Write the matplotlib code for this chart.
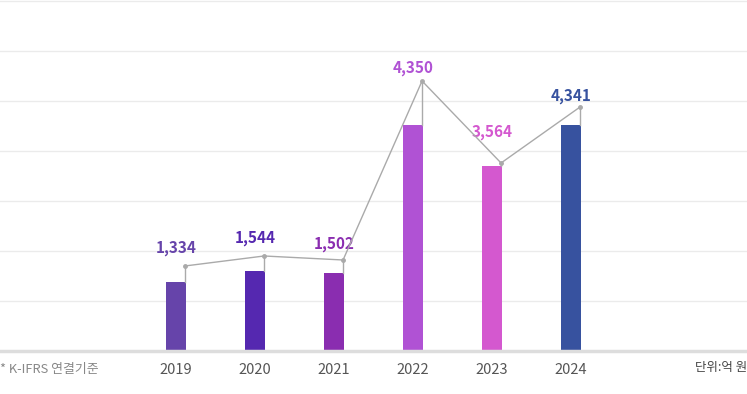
import matplotlib
matplotlib.use("Agg")
import matplotlib.pyplot as plt

plt.rcParams['font.family'] = ['Noto Sans CJK KR', 'DejaVu Sans']

years = ['2019', '2020', '2021', '2022', '2023', '2024']
values = [1334, 1544, 1502, 4350, 3564, 4341]
labels = ['1,334', '1,544', '1,502', '4,350', '3,564', '4,341']
# heights of the connector-line points
line_vals = [1635, 1827, 1750, 5192, 3615, 4692]
colors = ['#6644aa', '#5528b0', '#8a2db0', '#b052d4', '#d458cf', '#37529f']
label_offsets = [7.5, 7, 5.5, 3.5, 16.5, 2.5]  # points above the line points

W, H = 747, 394
fig = plt.figure(figsize=(W / 100, H / 100), dpi=100)
ax = fig.add_axes([0, 1 - 351 / H, 1, 350 / H])

x = list(range(len(years)))
bw = 20 / 79
ax.set_xlim(-176 / 79, (W - 176) / 79)
ax.set_ylim(0, 6730)

# decorative grid: every 50 px
for k in range(1, 8):
    f = k * 50 / 350
    ax.plot([0, 1], [f, f], transform=ax.transAxes, color='#ebebeb',
            lw=1, zorder=0, clip_on=False)

ax.bar(x, values, width=bw, color=colors, zorder=2)

px = [xi + bw / 2 - 0.012 for xi in x]
for xi, v, lv in zip(px, values, line_vals):
    ax.plot([xi, xi], [v, lv], color='#aaaaaa', lw=1, zorder=3)
ax.plot(px, line_vals, color='#aaaaaa', lw=1, marker='o', markersize=2.5,
        zorder=4)

for xi, lv, lab, c, off in zip(x, line_vals, labels, colors, label_offsets):
    ax.annotate(lab, (xi, lv), xytext=(0, off), textcoords='offset points',
                ha='center', va='bottom', color=c, fontsize=11,
                fontweight='bold')

ax.axhline(0, color='#dddddd', lw=2.5, zorder=5, clip_on=False)

for s in ax.spines.values():
    s.set_visible(False)
ax.set_yticks([])
ax.set_xticks(x)
ax.set_xticklabels(years, fontsize=10.5, color='#555555')
ax.tick_params(axis='x', length=0, pad=8.5)

fig.text(0, 1 - 369 / H, '* K-IFRS 연결기준', fontsize=9.3, color='#888888',
         ha='left', va='center')
fig.text(1, 1 - 368 / H, '단위:억 원', fontsize=9, color='#444444',
         ha='right', va='center')

fig.savefig('out.png', dpi=100)
